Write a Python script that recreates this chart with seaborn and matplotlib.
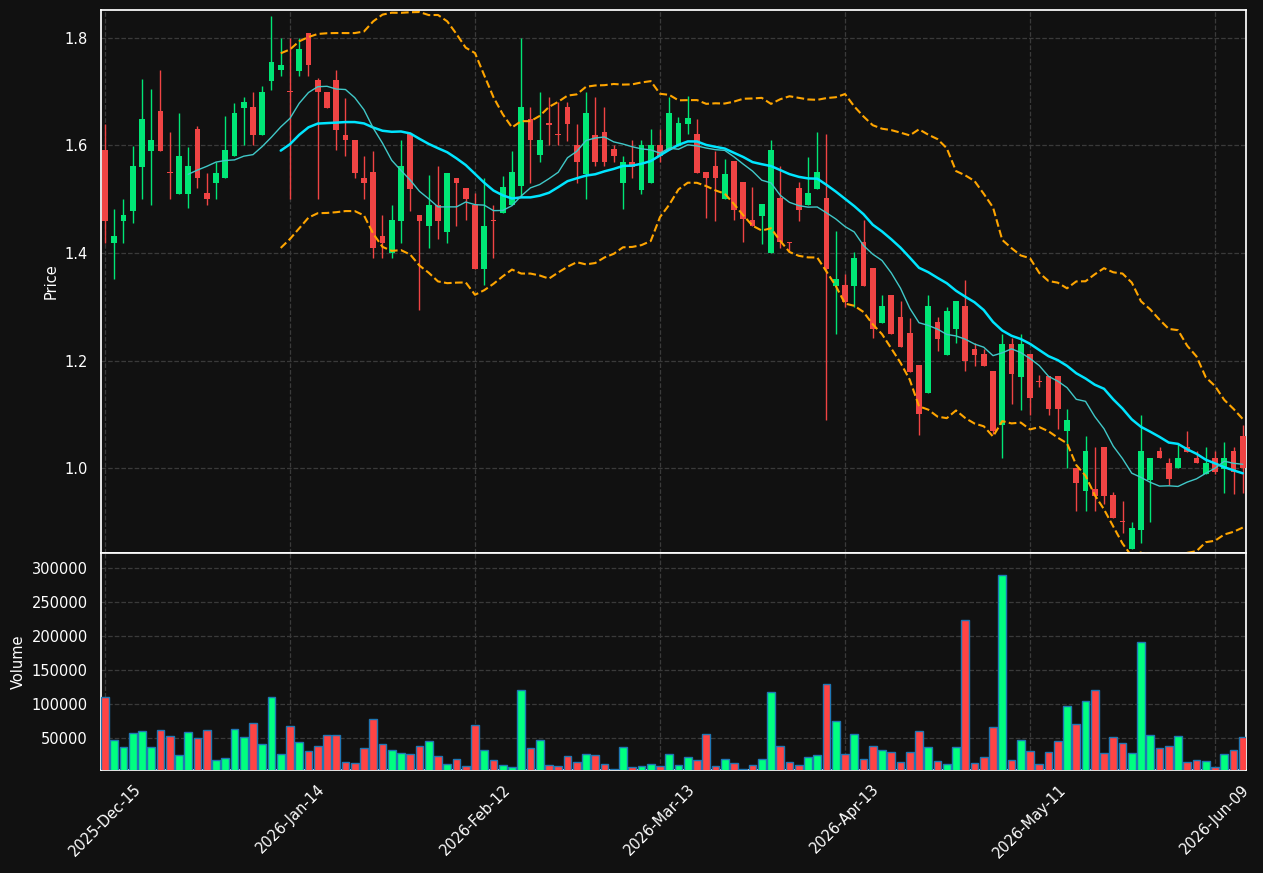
import numpy as np
import pandas as pd
import matplotlib
matplotlib.use("Agg")
import matplotlib.pyplot as plt
import seaborn as sns

open_ = [1.591,1.419,1.460,1.479,1.560,1.590,1.665,1.550,1.510,1.510,1.630,1.511,1.530,1.539,1.580,1.669,1.671,1.619,1.720,1.741,
         1.700,1.739,1.810,1.721,1.700,1.721,1.620,1.611,1.539,1.550,1.431,1.400,1.460,1.622,1.470,1.450,1.490,1.439,1.540,1.520,
         1.490,1.370,1.460,1.474,1.490,1.525,1.650,1.582,1.640,1.620,1.671,1.600,1.547,1.620,1.626,1.593,1.530,1.570,1.517,1.530,
         1.600,1.591,1.599,1.640,1.621,1.550,1.562,1.501,1.571,1.532,1.461,1.469,1.400,1.503,1.420,1.521,1.490,1.519,1.503,1.339,
         1.340,1.339,1.420,1.372,1.270,1.322,1.281,1.251,1.191,1.140,1.271,1.211,1.259,1.302,1.221,1.212,1.181,1.080,1.231,1.169,
         1.212,1.162,1.171,1.171,1.069,1.001,0.958,0.961,1.040,0.950,0.900,0.849,0.885,0.978,1.031,1.010,1.000,1.040,1.019,0.989,
         1.019,0.998,1.031,1.060]
close = [1.460,1.431,1.470,1.561,1.650,1.611,1.590,1.549,1.581,1.561,1.539,1.500,1.549,1.591,1.661,1.680,1.619,1.700,1.756,1.750,
         1.699,1.780,1.749,1.699,1.669,1.629,1.610,1.549,1.530,1.409,1.419,1.461,1.561,1.519,1.460,1.490,1.460,1.549,1.530,1.500,
         1.370,1.451,1.459,1.522,1.550,1.671,1.610,1.611,1.639,1.619,1.640,1.569,1.661,1.569,1.569,1.580,1.570,1.560,1.600,1.600,
         1.580,1.661,1.641,1.651,1.549,1.540,1.540,1.547,1.480,1.464,1.451,1.491,1.591,1.420,1.418,1.480,1.511,1.550,1.371,1.351,
         1.309,1.390,1.339,1.259,1.301,1.249,1.226,1.179,1.100,1.301,1.240,1.292,1.310,1.199,1.211,1.190,1.069,1.231,1.175,1.231,
         1.130,1.160,1.110,1.110,1.090,0.973,1.031,0.948,0.948,0.907,0.899,0.889,1.031,1.019,1.019,0.979,1.019,1.029,1.009,1.010,
         0.993,1.019,0.993,1.000]
high = [1.640,1.482,1.501,1.599,1.724,1.705,1.741,1.625,1.661,1.597,1.637,1.549,1.569,1.655,1.679,1.690,1.700,1.710,1.840,1.800,
        1.800,1.800,1.810,1.725,1.700,1.741,1.689,1.611,1.580,1.590,1.470,1.490,1.611,1.622,1.470,1.546,1.561,1.549,1.540,1.520,
        1.511,1.540,1.490,1.544,1.590,1.800,1.671,1.700,1.690,1.680,1.680,1.640,1.700,1.690,1.671,1.600,1.580,1.611,1.611,1.630,
        1.630,1.690,1.653,1.692,1.650,1.550,1.589,1.574,1.571,1.532,1.522,1.491,1.611,1.561,1.420,1.532,1.578,1.626,1.621,1.441,
        1.361,1.401,1.461,1.372,1.321,1.322,1.310,1.279,1.191,1.321,1.281,1.300,1.310,1.350,1.232,1.221,1.181,1.250,1.241,1.250,
        1.212,1.173,1.171,1.171,1.110,1.001,1.060,1.040,1.040,0.956,0.939,0.900,1.099,1.019,1.040,1.019,1.047,1.069,1.031,1.040,
        1.031,1.048,1.040,1.080]
low = [1.419,1.351,1.419,1.455,1.501,1.490,1.590,1.501,1.510,1.484,1.521,1.490,1.501,1.539,1.580,1.600,1.600,1.619,1.703,1.729,
       1.501,1.729,1.729,1.501,1.669,1.591,1.580,1.539,1.501,1.390,1.390,1.390,1.419,1.479,1.294,1.410,1.426,1.419,1.450,1.462,
       1.370,1.341,1.390,1.474,1.490,1.504,1.530,1.570,1.600,1.601,1.609,1.530,1.501,1.561,1.561,1.569,1.481,1.540,1.510,1.530,
       1.569,1.591,1.599,1.622,1.549,1.466,1.460,1.501,1.461,1.420,1.451,1.416,1.400,1.410,1.401,1.460,1.490,1.519,1.090,1.250,
       1.300,1.300,1.339,1.241,1.270,1.249,1.226,1.179,1.061,1.140,1.217,1.211,1.232,1.180,1.189,1.190,1.064,1.019,1.119,1.108,
       1.099,1.150,1.099,1.073,1.000,0.920,0.920,0.920,0.933,0.907,0.880,0.849,0.860,0.900,1.019,0.969,1.000,1.029,1.009,0.989,
       0.989,0.954,0.951,0.954]
volume = [110700,47500,36800,57800,60300,36800,61700,52900,25000,59300,50000,61700,17600,20600,63200,51500,72000,41700,110700,26500,
          67600,44100,30900,38200,54400,54400,15200,13200,35300,77900,41700,32300,28400,26500,38200,45600,23500,11800,19100,8800,
          69100,32300,17600,10300,7400,120500,35300,47000,10300,8800,23500,14700,26500,25000,11800,4400,36800,7400,8800,11800,
          8800,26500,10300,22000,17600,55900,8800,19100,13200,4400,10300,19100,117600,38200,14700,10300,22000,25000,129400,75000,
          26500,55900,19100,38200,32300,29400,14700,29400,60300,36800,16200,11800,36800,224000,13200,22000,66200,290000,17600,47000,
          30900,11800,29400,45600,97000,70600,104400,120500,27900,51500,42600,27900,191000,54400,35300,38200,52900,14700,17600,16200,
          7400,26500,32300,51500]

holidays = ["2025-12-25", "2026-01-01", "2026-01-19", "2026-02-16", "2026-04-03", "2026-05-25"]
dates = [d for d in pd.bdate_range("2025-12-15", periods=140) if d.strftime("%Y-%m-%d") not in holidays][:len(close)]

df = pd.DataFrame({"Open": open_, "High": high, "Low": low, "Close": close, "Volume": volume})
df["i"] = np.arange(len(df))
df["MA10"] = df["Close"].rolling(10).mean()
df["MA20"] = df["Close"].rolling(20).mean()
sd = df["Close"].rolling(20).std()
df["Upper"] = df["MA20"] + 2 * sd
df["Lower"] = df["MA20"] - 2 * sd

sns.set_theme(style="darkgrid")
bg = "#111111"
plt.rcParams.update({
    "figure.facecolor": bg, "axes.facecolor": bg, "axes.edgecolor": "white",
    "axes.labelcolor": "white", "xtick.color": "white", "ytick.color": "white",
    "text.color": "white", "grid.color": "#3a3a3a", "grid.linestyle": "--",
    "font.size": 10.5, "axes.labelsize": 10.5, "xtick.labelsize": 10.5, "ytick.labelsize": 10.5,
})
plt.rcParams["font.family"] = ["DejaVu Sans"]

fig = plt.figure(figsize=(12.63, 8.73), dpi=100)
ax1 = fig.add_axes([101/1263, 1-553/873, (1246-101)/1263, (553-10)/873])
ax2 = fig.add_axes([101/1263, 1-770/873, (1246-101)/1263, (770-553)/873], sharex=ax1)

up_c, dn_c = "#00e676", "#f04444"
up = df["Close"] >= df["Open"]
cols = np.where(up, up_c, dn_c)
ax1.vlines(df["i"], df["Low"], df["High"], colors=cols, linewidth=1, zorder=2)
body_lo = np.minimum(df["Open"], df["Close"])
body_h = np.maximum(np.abs(df["Close"] - df["Open"]), 0.002)
ax1.bar(df["i"], body_h, bottom=body_lo, width=0.6, color=cols, linewidth=0, zorder=3)

sns.lineplot(data=df, x="i", y="MA20", ax=ax1, color="#00e5ff", linewidth=1.8, zorder=4)
sns.lineplot(data=df, x="i", y="MA10", ax=ax1, color="#40c8c8", linewidth=1.0, zorder=4)
sns.lineplot(data=df, x="i", y="Upper", ax=ax1, color="#ffa500", linewidth=1.5, linestyle="--", zorder=4)
sns.lineplot(data=df, x="i", y="Lower", ax=ax1, color="#ffa500", linewidth=1.5, linestyle="--", zorder=4)

vcols = np.where(up, "#00ff80", "#ff4444")
ax2.bar(df["i"], df["Volume"], width=0.85, color=vcols, edgecolor="#1f77b4", linewidth=1, zorder=3)

ax1.set_ylim(0.842, 1.852)
ax1.set_yticks([1.0, 1.2, 1.4, 1.6, 1.8])
ax1.set_ylabel("Price")
ax1.set_xlabel("")
ax1.tick_params(axis="x", labelbottom=False, length=0)
ax2.set_ylim(3000, 322000)
ax2.set_yticks([50000, 100000, 150000, 200000, 250000, 300000])
ax2.set_ylabel("Volume")
ax1.set_xlim(-0.43, len(df) - 0.65)
ticks = list(range(0, len(df), 20))
ax2.set_xticks(ticks)
ax2.set_xticklabels([dates[t].strftime("%Y-%b-%d") for t in ticks], rotation=45)
ax2.tick_params(axis="x", length=5, color="white")
for ax in (ax1, ax2):
    ax.grid(True, color="#3a3a3a", linestyle="--", linewidth=0.9)
    for s in ax.spines.values():
        s.set_color("white")
        s.set_visible(True)

fig.savefig("out.png", dpi=100, facecolor=bg)
